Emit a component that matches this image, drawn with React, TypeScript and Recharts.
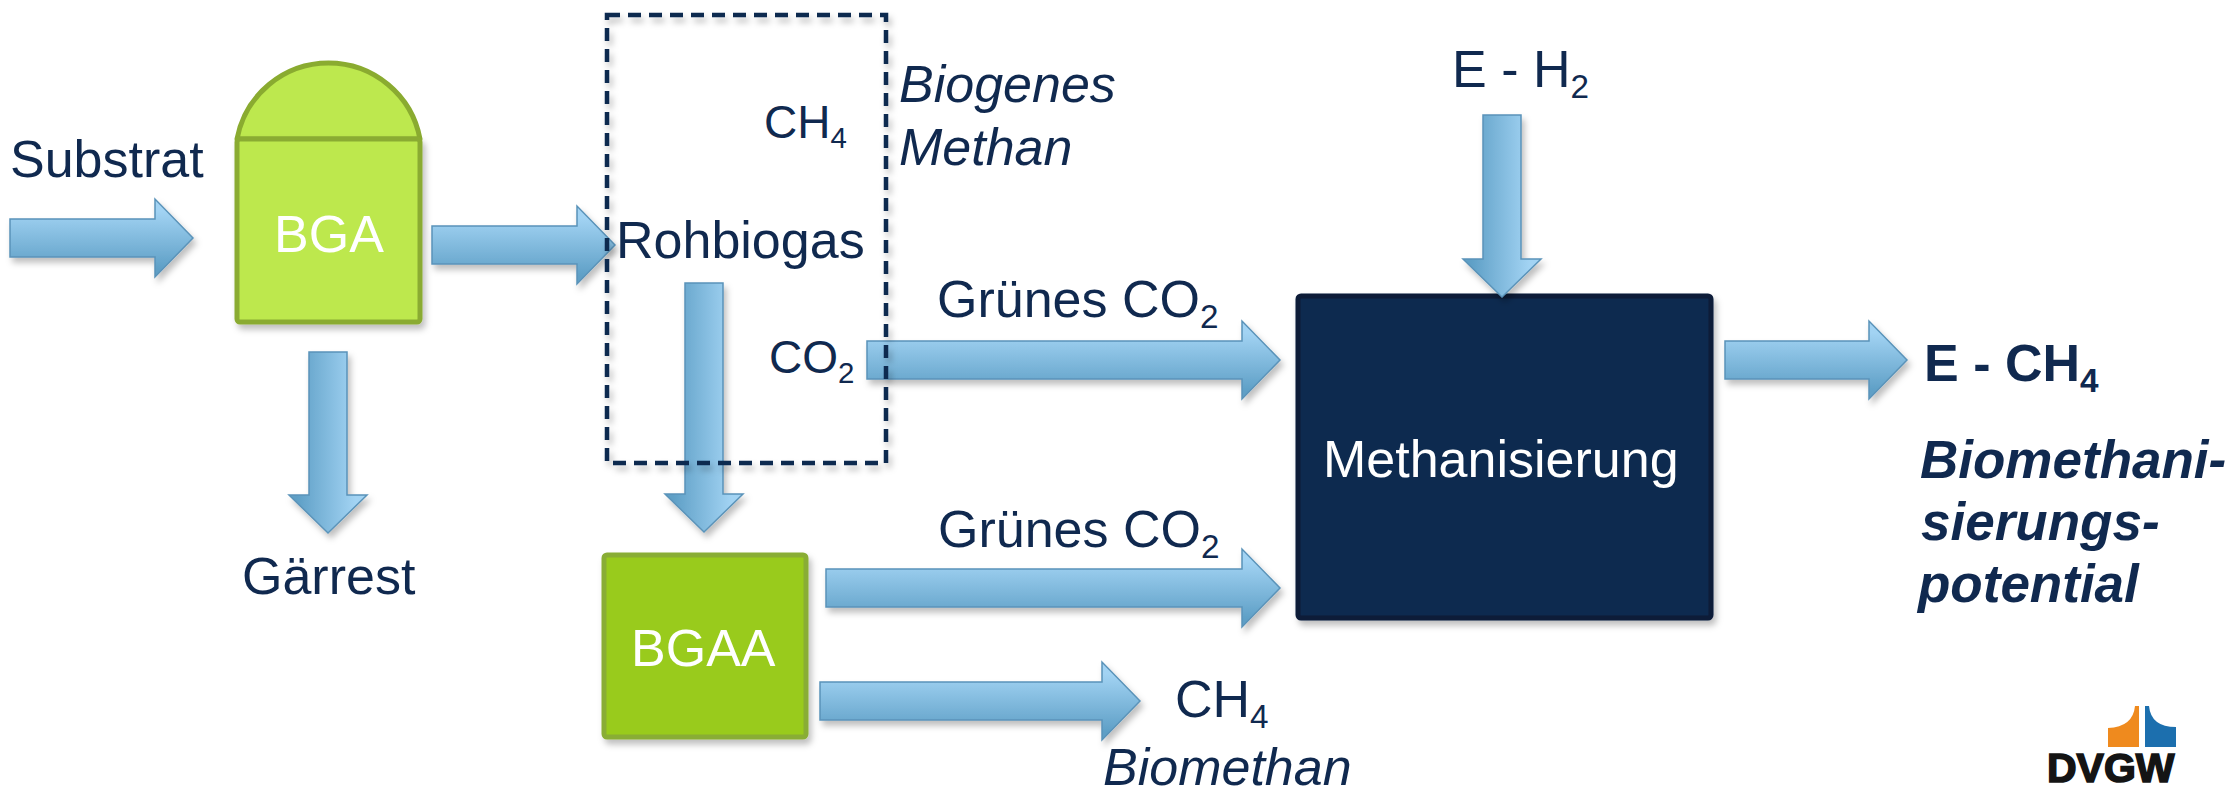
import React from 'react';
import { ScatterChart, Scatter, XAxis, YAxis, ReferenceArea, ReferenceLine } from 'recharts';

const WIDTH = 2236;
const HEIGHT = 796;
const NAVY = '#10294f';
const FONT = '"Liberation Sans", Arial, Helvetica, sans-serif';

// process units (diagram units, y grows downward)
const boxes = [
  { id: 'BGA', x1: 237, x2: 420, y1: 139, y2: 322, fill: '#bde84e', stroke: '#8aab30' },
  { id: 'BGAA', x1: 604, x2: 806, y1: 555, y2: 737, fill: '#99cb1c', stroke: '#89ad34' },
  { id: 'Methanisierung', x1: 1298, x2: 1711, y1: 296, y2: 618, fill: '#10294f', stroke: '#0a1b38' },
];
const tankRoof = { x1: 237, x2: 420, y1: 63, y2: 139 };
const rawGasBorder = { x1: 607, x2: 886, y1: 15, y2: 463 };
const logoMark = { x1: 2105, x2: 2180, y1: 700, y2: 750 };

// material flows: start of shaft -> arrow tip
const flows = [
  { name: 'Substrat', x1: 10, y1: 238, x2: 193, y2: 238 },
  { name: 'Rohbiogas', x1: 432, y1: 245, x2: 615, y2: 245 },
  { name: 'Gärrest', x1: 328, y1: 352, x2: 328, y2: 533 },
  { name: 'Aufbereitung', x1: 704, y1: 283, x2: 704, y2: 532 },
  { name: 'CO2 Rohgas', x1: 867, y1: 360, x2: 1280, y2: 360 },
  { name: 'CO2 BGAA', x1: 826, y1: 588, x2: 1280, y2: 588 },
  { name: 'Biomethan', x1: 820, y1: 701, x2: 1140, y2: 701 },
  { name: 'E-H2', x1: 1502, y1: 115, x2: 1502, y2: 297 },
  { name: 'E-CH4', x1: 1725, y1: 360, x2: 1907, y2: 360 },
];

// text labels: left edge x, baseline y
const labels = [
  { x: 10, y: 177, text: 'Substrat', sub: '', kind: 'plain' },
  { x: 274, y: 252, text: 'BGA', sub: '', kind: 'white' },
  { x: 242, y: 594, text: 'Gärrest', sub: '', kind: 'plain' },
  { x: 616, y: 258, text: 'Rohbiogas', sub: '', kind: 'plain' },
  { x: 764, y: 138, text: 'CH', sub: '4', kind: 'small' },
  { x: 769, y: 373, text: 'CO', sub: '2', kind: 'small' },
  { x: 899, y: 102, text: 'Biogenes', sub: '', kind: 'italic' },
  { x: 899, y: 165, text: 'Methan', sub: '', kind: 'italic' },
  { x: 937, y: 317, text: 'Grünes CO', sub: '2', kind: 'plain' },
  { x: 938, y: 547, text: 'Grünes CO', sub: '2', kind: 'plain' },
  { x: 631, y: 666, text: 'BGAA', sub: '', kind: 'white' },
  { x: 1175, y: 717, text: 'CH', sub: '4', kind: 'plain' },
  { x: 1103, y: 785, text: 'Biomethan', sub: '', kind: 'italic' },
  { x: 1323, y: 477, text: 'Methanisierung', sub: '', kind: 'white' },
  { x: 1452, y: 87, text: 'E - H', sub: '2', kind: 'plain' },
  { x: 1924, y: 381, text: 'E - CH', sub: '4', kind: 'bold' },
  { x: 1920, y: 478, text: 'Biomethani-', sub: '', kind: 'boldItalic' },
  { x: 1921, y: 540, text: 'sierungs-', sub: '', kind: 'boldItalic' },
  { x: 1918, y: 602, text: 'potential', sub: '', kind: 'boldItalic' },
  { x: 2047, y: 782, text: 'DVGW', sub: '', kind: 'logo' },
];

const textStyles: Record<string, { size: number; weight: number; italic: boolean; color: string; outline: number }> = {
  plain: { size: 52, weight: 400, italic: false, color: NAVY, outline: 0 },
  small: { size: 46, weight: 400, italic: false, color: NAVY, outline: 0 },
  italic: { size: 52, weight: 400, italic: true, color: NAVY, outline: 0 },
  white: { size: 52, weight: 400, italic: false, color: '#ffffff', outline: 0 },
  bold: { size: 52, weight: 700, italic: false, color: NAVY, outline: 0 },
  boldItalic: { size: 53, weight: 700, italic: true, color: NAVY, outline: 0 },
  logo: { size: 41, weight: 700, italic: false, color: '#141414', outline: 1.6 },
};

const SHAFT = 19;
const HEAD = 39;
const HEAD_LEN = 38;

const ArrowShape = (props: any) => {
  const { x1, y1, x2, y2 } = props;
  if ([x1, y1, x2, y2].some((v) => v == null || isNaN(v))) return null;
  const dx = x2 - x1;
  const dy = y2 - y1;
  const len = Math.hypot(dx, dy) || 1;
  const ux = dx / len;
  const uy = dy / len;
  const nx = -uy;
  const ny = ux;
  const bx = x2 - ux * HEAD_LEN;
  const by = y2 - uy * HEAD_LEN;
  const pts = [
    [x1 + nx * SHAFT, y1 + ny * SHAFT],
    [bx + nx * SHAFT, by + ny * SHAFT],
    [bx + nx * HEAD, by + ny * HEAD],
    [x2, y2],
    [bx - nx * HEAD, by - ny * HEAD],
    [bx - nx * SHAFT, by - ny * SHAFT],
    [x1 - nx * SHAFT, y1 - ny * SHAFT],
  ];
  const horizontal = Math.abs(dx) >= Math.abs(dy);
  return (
    <polygon
      points={pts.map((p) => p.join(',')).join(' ')}
      fill={horizontal ? 'url(#arrowH)' : 'url(#arrowV)'}
      stroke="#5a93b9"
      strokeWidth={1.5}
      strokeLinejoin="miter"
      filter="url(#softShadow)"
    />
  );
};

const makeBox = (fill: string, stroke: string) => (p: any) => (
  <rect
    x={p.x}
    y={p.y}
    width={p.width}
    height={p.height}
    rx={3}
    fill={fill}
    stroke={stroke}
    strokeWidth={5}
    filter="url(#softShadow)"
  />
);

const RoofShape = (p: any) => {
  const { x, y, width, height } = p;
  const half = width / 2;
  const r = (height * height + half * half) / (2 * height);
  return (
    <path
      d={`M${x},${y + height} A${r},${r} 0 0 1 ${x + width},${y + height} Z`}
      fill="#bde84e"
      stroke="#8aab30"
      strokeWidth={5}
      strokeLinejoin="round"
    />
  );
};

const DashedShape = (p: any) => (
  <rect
    x={p.x}
    y={p.y}
    width={p.width}
    height={p.height}
    fill="none"
    stroke={NAVY}
    strokeWidth={4.5}
    strokeDasharray="13 8"
    filter="url(#softShadow)"
  />
);

const LogoShape = (p: any) => {
  const { x, y, width: w, height: h } = p;
  const X = (f: number) => x + (f / 75) * w;
  const Y = (f: number) => y + (f / 50) * h;
  return (
    <g>
      <path
        d={`M${X(30)},${Y(6)} L${X(34)},${Y(6)} L${X(34)},${Y(47)} L${X(3)},${Y(47)} L${X(3)},${Y(28)} Q${X(28)},${Y(27)} ${X(30)},${Y(6)} Z`}
        fill="#ef8a1e"
      />
      <path
        d={`M${X(40)},${Y(6)} L${X(44)},${Y(6)} Q${X(46)},${Y(27)} ${X(71)},${Y(27)} L${X(71)},${Y(47)} L${X(40)},${Y(47)} Z`}
        fill="#1c6fae"
      />
    </g>
  );
};

const LabelShape = (props: any) => {
  const { cx, cy, payload } = props;
  if (cx == null || cy == null || !payload) return null;
  const st = textStyles[payload.kind];
  return (
    <text
      x={cx}
      y={cy}
      fontFamily={FONT}
      fontSize={st.size}
      fontWeight={st.weight}
      fontStyle={st.italic ? 'italic' : 'normal'}
      fill={st.color}
      stroke={st.outline ? st.color : 'none'}
      strokeWidth={st.outline}
      textAnchor="start"
    >
      {payload.text}
      {payload.sub ? (
        <tspan fontSize={st.size * 0.64} dy={st.size * 0.22}>
          {payload.sub}
        </tspan>
      ) : null}
    </text>
  );
};

export default function App() {
  return (
    <div style={{ position: 'absolute', left: 0, top: 0, width: WIDTH, height: HEIGHT, background: '#fff' }}>
      <ScatterChart width={WIDTH} height={HEIGHT} margin={{ top: 0, right: 0, bottom: 0, left: 0 }}>
        <defs>
          <linearGradient id="arrowH" x1="0" y1="0" x2="0" y2="1">
            <stop offset="15%" stopColor="#a2d3f3" />
            <stop offset="90%" stopColor="#5e9fc6" />
          </linearGradient>
          <linearGradient id="arrowV" x1="0" y1="0" x2="1" y2="0">
            <stop offset="10%" stopColor="#5e9fc6" />
            <stop offset="85%" stopColor="#a2d3f3" />
          </linearGradient>
          <filter id="softShadow" x="-10%" y="-20%" width="125%" height="150%">
            <feDropShadow dx="3" dy="5" stdDeviation="3" floodColor="#000000" floodOpacity="0.25" />
          </filter>
        </defs>
        <XAxis type="number" dataKey="x" domain={[0, WIDTH]} hide allowDataOverflow />
        <YAxis type="number" dataKey="y" domain={[0, HEIGHT]} reversed hide allowDataOverflow />

        <ReferenceArea
          x1={tankRoof.x1}
          x2={tankRoof.x2}
          y1={tankRoof.y1}
          y2={tankRoof.y2}
          shape={RoofShape}
          zIndex={100}
        />
        {boxes.map((b) => (
          <ReferenceArea
            key={b.id}
            x1={b.x1}
            x2={b.x2}
            y1={b.y1}
            y2={b.y2}
            shape={makeBox(b.fill, b.stroke)}
            zIndex={100}
          />
        ))}

        {flows.map((f) => (
          <ReferenceLine
            key={f.name}
            segment={[
              { x: f.x1, y: f.y1 },
              { x: f.x2, y: f.y2 },
            ]}
            shape={ArrowShape}
            zIndex={200}
          />
        ))}

        <ReferenceArea
          x1={rawGasBorder.x1}
          x2={rawGasBorder.x2}
          y1={rawGasBorder.y1}
          y2={rawGasBorder.y2}
          shape={DashedShape}
          zIndex={300}
        />
        <ReferenceArea
          x1={logoMark.x1}
          x2={logoMark.x2}
          y1={logoMark.y1}
          y2={logoMark.y2}
          shape={LogoShape}
          zIndex={300}
        />

        <Scatter data={labels} shape={LabelShape} isAnimationActive={false} zIndex={600} />
      </ScatterChart>
    </div>
  );
}
